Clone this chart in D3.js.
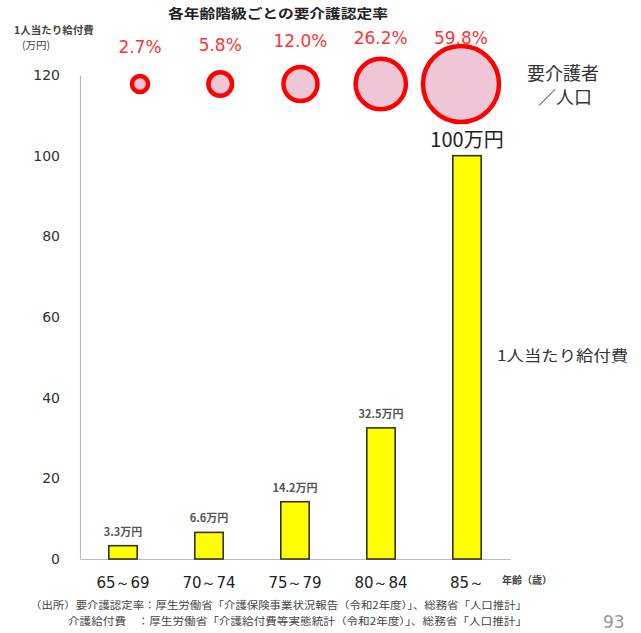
<!DOCTYPE html>
<html><head><meta charset="utf-8">
<script src="https://cdn.jsdelivr.net/npm/d3@7"></script>
<style>html,body{margin:0;padding:0;background:#fff}</style>
</head><body>
<svg id="c" width="641" height="633"></svg>
<script>
const categories = ["65～69","70～74","75～79","80～84","85～"];
const benefit = [3.3, 6.6, 14.2, 32.5, 100];
const benefitLabels = ["3.3万円","6.6万円","14.2万円","32.5万円","100万円"];
const rate = [2.7, 5.8, 12.0, 26.2, 59.8];
const rateLabels = ["2.7%","5.8%","12.0%","26.2%","59.8%"];
const yTicks = [0,20,40,60,80,100,120];

const svg = d3.select("#c");
const numFont = "'DejaVu Sans', Verdana, sans-serif";
const jpFont = "'Noto Sans CJK JP', sans-serif";

const x = d3.scaleBand().domain(categories).range([80, 510]).paddingInner(0.67).paddingOuter(0.335);
const y = d3.scaleLinear().domain([0, 120]).range([559, 75]);
const xc = d3.scalePoint().domain(categories).range([140, 461]);
const r = d3.scaleSqrt().domain([0, 59.8]).range([0, 38]);

// title
svg.append("text").attr("x", 168).attr("y", 18)
  .attr("font-family", jpFont).attr("font-weight","bold").attr("font-size", 13).attr("fill","#222")
  .attr("textLength", 220).attr("lengthAdjust","spacingAndGlyphs")
  .text("各年齢階級ごとの要介護認定率");
svg.append("text").attr("x", 14).attr("y", 34).attr("font-family", jpFont).attr("font-weight","bold")
  .attr("font-size", 10.5).attr("fill","#444").text("1人当たり給付費");
svg.append("text").attr("x", 22).attr("y", 49).attr("font-family", jpFont)
  .attr("font-size", 10.5).attr("fill","#444").text("(万円)");

// y axis
const yAxis = d3.axisLeft(y).tickValues(yTicks).tickSize(0).tickPadding(20);
const ga = svg.append("g").attr("transform","translate(80,0)").call(yAxis);
ga.select(".domain").attr("stroke","#bbb").attr("stroke-width",1.2);
ga.selectAll("text").attr("font-family", numFont).attr("font-size", 14).attr("fill","#333");

// x axis baseline
const xAxis = d3.axisBottom(x).tickSize(0).tickPadding(18);
const gx = svg.append("g").attr("transform","translate(0,559)").call(xAxis);
gx.select(".domain").attr("stroke","#bbb").attr("stroke-width",1.2);
gx.selectAll("text").attr("font-family", numFont).attr("font-size", 15).attr("fill","#222");

// bars
svg.selectAll("rect.bar").data(benefit).join("rect").attr("class","bar")
  .attr("x", (d,i)=>x(categories[i])).attr("width", x.bandwidth())
  .attr("y", d=>y(d)).attr("height", d=>y(0)-y(d))
  .attr("fill","#ffff00").attr("stroke","#333").attr("stroke-width",1.6);

// bar labels
svg.selectAll("text.bl").data(benefit).join("text").attr("class","bl")
  .attr("x",(d,i)=>x(categories[i])+x.bandwidth()/2)
  .attr("y",(d,i)=> i===4 ? y(d)-9 : y(d)-10)
  .attr("text-anchor","middle")
  .attr("font-family", jpFont)
  .attr("font-size",(d,i)=> i===4 ? 20 : 11)
  .attr("font-weight",(d,i)=> i===4 ? "normal" : "bold")
  .attr("fill",(d,i)=> i===4 ? "#222" : "#555")
  .text((d,i)=>benefitLabels[i]);

// circles
const cy = 84;
svg.selectAll("circle.rc").data(rate).join("circle").attr("class","rc")
  .attr("cx",(d,i)=>xc(categories[i]))
  .attr("cy",cy)
  .attr("r", d=>r(d))
  .attr("fill","#efc6d6").attr("stroke","#ff0000").attr("stroke-width",4.5);

svg.selectAll("text.rl").data(rate).join("text").attr("class","rl")
  .attr("x",(d,i)=>xc(categories[i]))
  .attr("y",(d,i)=>[53,51,47,44,44][i])
  .attr("text-anchor","middle").attr("font-family",numFont).attr("font-size",17)
  .attr("fill","#ff3333").text((d,i)=>rateLabels[i]);

svg.append("text").attr("x",527).attr("y",80).attr("font-family",jpFont).attr("font-size",18)
  .attr("fill","#333").text("要介護者");
svg.append("text").attr("x",538).attr("y",104).attr("font-family",jpFont).attr("font-size",18)
  .attr("fill","#333").text("／人口");

svg.append("text").attr("x",497).attr("y",361).attr("font-family",jpFont).attr("font-size",15)
  .attr("fill","#333").attr("textLength",131).attr("lengthAdjust","spacingAndGlyphs").text("1人当たり給付費");

svg.append("text").attr("x",502).attr("y",584).attr("font-family",jpFont).attr("font-size",10)
  .attr("font-weight","bold").attr("fill","#444").text("年齢（歳）");

svg.append("text").attr("x",30).attr("y",609).attr("font-family",jpFont).attr("font-size",10)
  .attr("fill","#444").attr("textLength",497).attr("lengthAdjust","spacingAndGlyphs")
  .text("（出所）要介護認定率：厚生労働省「介護保険事業状況報告（令和2年度）」、総務省「人口推計」");
svg.append("text").attr("x",68).attr("y",625).attr("font-family",jpFont).attr("font-size",10)
  .attr("fill","#444").attr("textLength",459).attr("lengthAdjust","spacingAndGlyphs")
  .text("介護給付費　：厚生労働省「介護給付費等実態統計（令和2年度）」、総務省「人口推計」");

svg.append("text").attr("x",603).attr("y",628).attr("font-family",numFont).attr("font-size",17)
  .attr("fill","#999").text("93");
</script>
</body></html>
